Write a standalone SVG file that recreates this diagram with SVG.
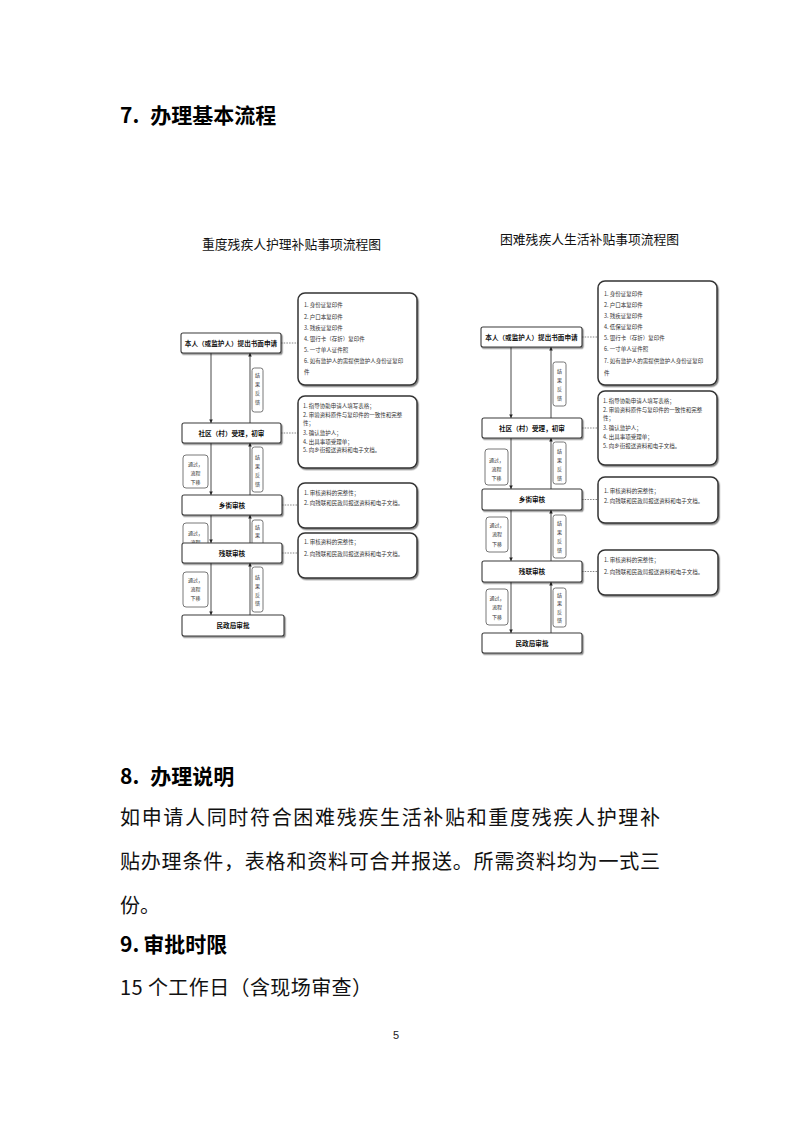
<svg xmlns="http://www.w3.org/2000/svg" width="793" height="1122" viewBox="0 0 793 1122">
<style>
.h{font-family:"Noto Sans CJK SC","Liberation Sans",sans-serif;font-weight:bold;font-size:21px;fill:#000}
.p{font-family:"Noto Sans CJK SC",sans-serif;font-size:20px;fill:#111}
.t{font-family:"Noto Sans CJK SC",sans-serif;font-size:12.8px;fill:#111}
.node rect{fill:#fff;stroke:#3a3a3a;stroke-width:1.1}
.node text{font-family:"Noto Sans CJK SC",sans-serif;font-weight:bold;font-size:6.6px;fill:#111;text-anchor:middle}
.note rect{fill:#fff;stroke:#333;stroke-width:1.5}
.note text{font-family:"Noto Sans CJK SC",sans-serif;font-size:5.5px;fill:#333}
.lab rect{fill:#fff;stroke:#555;stroke-width:0.8}
.lab text{font-family:"Noto Sans CJK SC",sans-serif;font-size:5px;fill:#333;text-anchor:middle}
.arr{stroke:#333;stroke-width:0.9;fill:none;marker-end:url(#ah)}
.dot{stroke:#666;stroke-width:0.8;stroke-dasharray:1.5 1.2;fill:none}
</style>
<defs>
<marker id="ah" viewBox="0 0 6 6" refX="6" refY="3" markerWidth="4" markerHeight="4" orient="auto"><path d="M0,0 L6,3 L0,6 z" fill="#222"/></marker>
<filter id="sh" x="-10%" y="-10%" width="130%" height="140%"><feDropShadow dx="1.2" dy="1.4" stdDeviation="0.6" flood-color="#000" flood-opacity="0.45"/></filter>
</defs>

<text class="h" x="120" y="123">7.<tspan dx="11">办理基本流程</tspan></text>
<text class="t" x="202" y="249">重度残疾人护理补贴事项流程图</text>
<text class="t" x="500" y="244">困难残疾人生活补贴事项流程图</text>

<!-- LEFT DIAGRAM -->
<g id="L_labels" class="lab">
<rect x="252" y="368" width="11" height="44" rx="2.5"/>
<text x="257.5" y="377">结</text><text x="257.5" y="386">果</text><text x="257.5" y="395">反</text><text x="257.5" y="404">馈</text>
<rect x="183" y="455" width="25" height="33" rx="3"/>
<text x="195.5" y="466">通过，</text><text x="195.5" y="475">流程</text><text x="195.5" y="484">下移</text>
<rect x="252" y="447" width="11" height="45" rx="2.5"/>
<text x="257.5" y="459">结</text><text x="257.5" y="468">果</text><text x="257.5" y="477">反</text><text x="257.5" y="486">馈</text>
<rect x="183" y="523" width="25" height="34" rx="3"/>
<text x="195.5" y="535">通过，</text><text x="195.5" y="544">流程</text>
<rect x="252" y="520" width="11" height="40" rx="2.5"/>
<text x="257.5" y="529">结</text><text x="257.5" y="537">果</text>
<rect x="183" y="572" width="25" height="35" rx="3"/>
<text x="195.5" y="582">通过，</text><text x="195.5" y="591">流程</text><text x="195.5" y="600">下移</text>
<rect x="252" y="567" width="11" height="45" rx="2.5"/>
<text x="257.5" y="579">结</text><text x="257.5" y="588">果</text><text x="257.5" y="597">反</text><text x="257.5" y="605">馈</text>
</g>

<g id="L_connectors">
<path class="arr" d="M211,353 V423"/>
<path class="arr" d="M211,443 V495"/>
<path class="arr" d="M211,515 V543"/>
<path class="arr" d="M211,563 V615"/>
<path class="arr" d="M250,423 V353"/>
<path class="arr" d="M250,495 V443"/>
<path class="arr" d="M250,543 V515"/>
<path class="arr" d="M250,615 V563"/>
<path class="dot" d="M281,343 H298"/>
<path class="dot" d="M281,433 H298"/>
<path class="dot" d="M282,505 H298"/>
<path class="dot" d="M282,553 H298"/>
</g>

<g id="L_n1" class="node"><rect x="181" y="333" width="100" height="20" rx="2" filter="url(#sh)"/><text x="231" y="345.5">本人（或监护人）提出书面申请</text></g>
<g id="L_n2" class="node"><rect x="182" y="423" width="99" height="20" rx="2" filter="url(#sh)"/><text x="231.5" y="435.5">社区（村）受理，初审</text></g>
<g id="L_n3" class="node"><rect x="182" y="495" width="100" height="20" rx="2" filter="url(#sh)"/><text x="232" y="507.5">乡街审核</text></g>
<g id="L_n4" class="node"><rect x="182" y="543" width="100" height="20" rx="2" filter="url(#sh)"/><text x="232" y="555.5">残联审核</text></g>
<g id="L_n5" class="node"><rect x="182" y="615" width="102" height="21" rx="2" filter="url(#sh)"/><text x="233" y="628">民政局审批</text></g>

<g id="L_note1" class="note"><rect x="298" y="293" width="119" height="92" rx="7" filter="url(#sh)"/>
<text x="304" y="307">1. 身份证复印件</text>
<text x="304" y="319">2. 户口本复印件</text>
<text x="304" y="330">3. 残疾证复印件</text>
<text x="304" y="341">4. 银行卡（存折）复印件</text>
<text x="304" y="352">5. 一寸单人证件照</text>
<text x="304" y="363">6. 如有监护人的需提供监护人身份证复印</text>
<text x="304" y="374">件</text>
</g>
<g id="L_note2" class="note"><rect x="298" y="396" width="119" height="72" rx="7" filter="url(#sh)"/>
<text x="303" y="408">1. 指导协助申请人填写表格；</text>
<text x="303" y="416.5">2. 审验资料原件与复印件的一致性和完整</text>
<text x="303" y="425">性；</text>
<text x="303" y="435">3. 确认监护人；</text>
<text x="303" y="443.5">4. 出具事项受理单；</text>
<text x="303" y="452">5. 向乡街报送资料和电子文档。</text>
</g>
<g id="L_note3" class="note"><rect x="298" y="483" width="119" height="45" rx="7" filter="url(#sh)"/>
<text x="304" y="495">1. 审核资料的完整性；</text>
<text x="304" y="505">2. 向残联和民政局报送资料和电子文档。</text>
</g>
<g id="L_note4" class="note"><rect x="298" y="533" width="119" height="45" rx="7" filter="url(#sh)"/>
<text x="304" y="544">1. 审核资料的完整性；</text>
<text x="304" y="556">2. 向残联和民政局报送资料和电子文档。</text>
</g>

<!-- RIGHT DIAGRAM -->
<g id="R_labels" class="lab">
<rect x="553" y="362" width="13" height="44" rx="2.5"/>
<text x="559.5" y="373">结</text><text x="559.5" y="382">果</text><text x="559.5" y="391">反</text><text x="559.5" y="400">馈</text>
<rect x="485" y="449" width="23" height="36" rx="3"/>
<text x="496.5" y="462">通过，</text><text x="496.5" y="471">流程</text><text x="496.5" y="480">下移</text>
<rect x="553" y="442" width="13" height="42" rx="2.5"/>
<text x="559.5" y="453">结</text><text x="559.5" y="462">果</text><text x="559.5" y="471">反</text><text x="559.5" y="480">馈</text>
<rect x="486" y="517" width="22" height="35" rx="3"/>
<text x="497" y="527">通过，</text><text x="497" y="536">流程</text><text x="497" y="546">下移</text>
<rect x="553" y="515" width="13" height="43" rx="2.5"/>
<text x="559.5" y="525">结</text><text x="559.5" y="534">果</text><text x="559.5" y="543">反</text><text x="559.5" y="552">馈</text>
<rect x="486" y="589" width="22" height="36" rx="3"/>
<text x="497" y="600">通过，</text><text x="497" y="609">流程</text><text x="497" y="619">下移</text>
<rect x="553" y="588" width="13" height="39" rx="2.5"/>
<text x="559.5" y="597">结</text><text x="559.5" y="605">果</text><text x="559.5" y="614">反</text><text x="559.5" y="622">馈</text>
</g>

<g id="R_connectors">
<path class="arr" d="M511,347 V418"/>
<path class="arr" d="M511,438 V489"/>
<path class="arr" d="M511,510 V561"/>
<path class="arr" d="M511,582 V633"/>
<path class="arr" d="M551,418 V347"/>
<path class="arr" d="M551,489 V438"/>
<path class="arr" d="M551,561 V510"/>
<path class="arr" d="M551,633 V582"/>
<path class="dot" d="M582,337 H598"/>
<path class="dot" d="M582,428 H598"/>
<path class="dot" d="M582,499.5 H598"/>
<path class="dot" d="M582,571.5 H598"/>
</g>

<g id="R_n1" class="node"><rect x="481" y="327" width="101" height="20" rx="2" filter="url(#sh)"/><text x="531.5" y="339.5">本人（或监护人）提出书面申请</text></g>
<g id="R_n2" class="node"><rect x="482" y="418" width="100" height="20" rx="2" filter="url(#sh)"/><text x="532" y="430.5">社区（村）受理，初审</text></g>
<g id="R_n3" class="node"><rect x="482" y="489" width="100" height="21" rx="2" filter="url(#sh)"/><text x="532" y="502">乡街审核</text></g>
<g id="R_n4" class="node"><rect x="482" y="561" width="100" height="21" rx="2" filter="url(#sh)"/><text x="532" y="574">残联审核</text></g>
<g id="R_n5" class="node"><rect x="482" y="633" width="100" height="20" rx="2" filter="url(#sh)"/><text x="532" y="645.5">民政局审批</text></g>

<g id="R_note1" class="note"><rect x="598" y="281" width="119" height="104" rx="7" filter="url(#sh)"/>
<text x="604" y="296">1. 身份证复印件</text>
<text x="604" y="307">2. 户口本复印件</text>
<text x="604" y="318">3. 残疾证复印件</text>
<text x="604" y="329">4. 低保证复印件</text>
<text x="604" y="340">5. 银行卡（存折）复印件</text>
<text x="604" y="351">6. 一寸单人证件照</text>
<text x="604" y="363">7. 如有监护人的需提供监护人身份证复印</text>
<text x="604" y="375">件</text>
</g>
<g id="R_note2" class="note"><rect x="598" y="391" width="119" height="74" rx="7" filter="url(#sh)"/>
<text x="603" y="403">1. 指导协助申请人填写表格；</text>
<text x="603" y="411.5">2. 审验资料原件与复印件的一致性和完整</text>
<text x="603" y="420">性；</text>
<text x="603" y="430">3. 确认监护人；</text>
<text x="603" y="439">4. 出具事项受理单；</text>
<text x="603" y="447.5">5. 向乡街报送资料和电子文档。</text>
</g>
<g id="R_note3" class="note"><rect x="598" y="477" width="120" height="46" rx="7" filter="url(#sh)"/>
<text x="604" y="493">1. 审核资料的完整性；</text>
<text x="604" y="503">2. 向残联和民政局报送资料和电子文档。</text>
</g>
<g id="R_note4" class="note"><rect x="598" y="550" width="120" height="45" rx="7" filter="url(#sh)"/>
<text x="604" y="562">1. 审核资料的完整性；</text>
<text x="604" y="574">2. 向残联和民政局报送资料和电子文档。</text>
</g>

<text class="h" x="120" y="784">8.<tspan dx="11">办理说明</tspan></text>
<text class="p" x="120" y="825" textLength="540" lengthAdjust="spacing">如申请人同时符合困难残疾生活补贴和重度残疾人护理补</text>
<text class="p" x="120" y="869" textLength="540" lengthAdjust="spacing">贴办理条件，表格和资料可合并报送。所需资料均为一式三</text>
<text class="p" x="120" y="913">份。</text>
<text class="h" x="120" y="952">9.<tspan dx="4">审批时限</tspan></text>
<text class="p" x="120" y="995" textLength="252" lengthAdjust="spacing">15 个工作日（含现场审查）</text>
<text x="396" y="1039" font-family="Liberation Sans, sans-serif" font-size="11" text-anchor="middle" fill="#222">5</text>
</svg>
